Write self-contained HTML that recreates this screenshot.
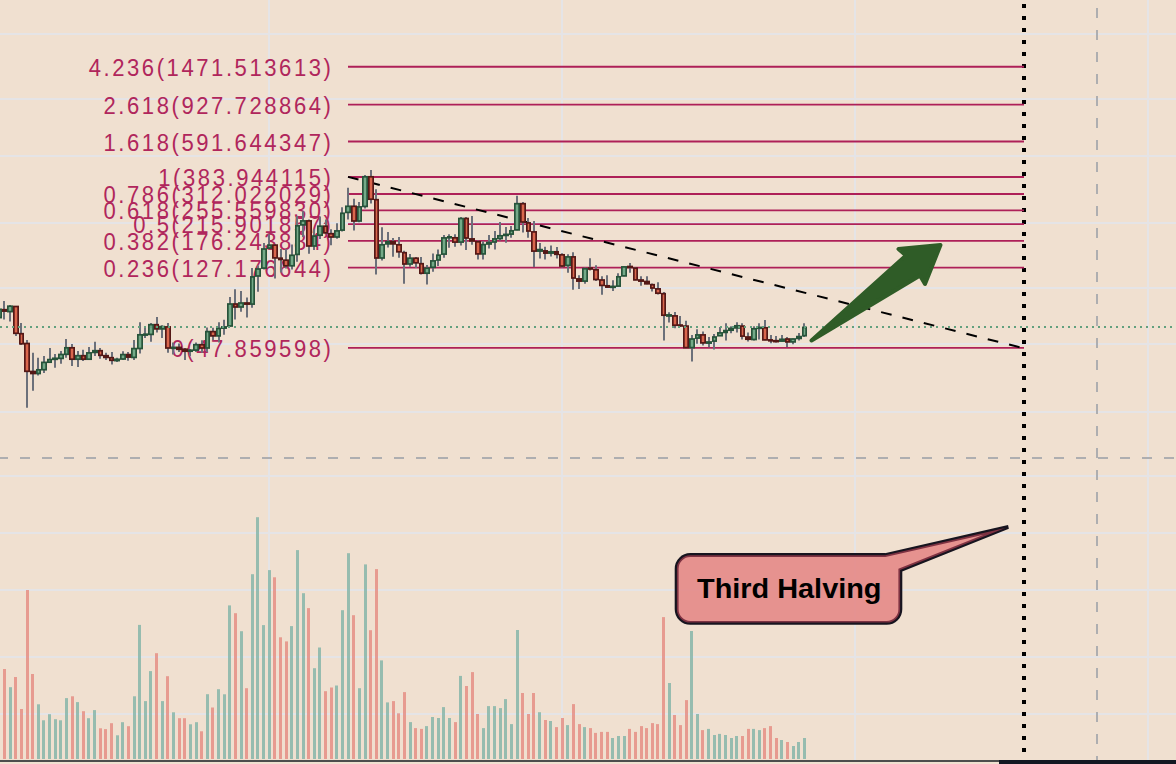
<!DOCTYPE html>
<html><head><meta charset="utf-8"><title>Chart</title>
<style>html,body{margin:0;padding:0;background:#f0e0d0;}body{width:1176px;height:764px;overflow:hidden;}svg{display:block;}text{font-family:"Liberation Sans",sans-serif;}</style>
</head><body>
<svg width="1176" height="764" viewBox="0 0 1176 764">
<rect width="1176" height="764" fill="#f0e0d0"/>
<g stroke="#e5e4e6" stroke-width="2" shape-rendering="auto">
<line x1="0" y1="34" x2="1176" y2="34"/>
<line x1="0" y1="99" x2="1176" y2="99"/>
<line x1="0" y1="156" x2="1176" y2="156"/>
<line x1="0" y1="223" x2="1176" y2="223"/>
<line x1="0" y1="288" x2="1176" y2="288"/>
<line x1="0" y1="344" x2="1176" y2="344"/>
<line x1="0" y1="412" x2="1176" y2="412"/>
<line x1="0" y1="476" x2="1176" y2="476"/>
<line x1="0" y1="533" x2="1176" y2="533"/>
<line x1="0" y1="590" x2="1176" y2="590"/>
<line x1="0" y1="657" x2="1176" y2="657"/>
<line x1="0" y1="714" x2="1176" y2="714"/>
<line x1="269" y1="0" x2="269" y2="760"/>
<line x1="562" y1="0" x2="562" y2="760"/>
<line x1="855" y1="0" x2="855" y2="760"/>
<line x1="1148" y1="0" x2="1148" y2="760"/>
</g>
<g>
<rect x="3" y="669" width="3" height="90" fill="#e58a80" fill-opacity="0.8"/>
<rect x="9" y="687.2" width="3" height="71.8" fill="#7fb3a6" fill-opacity="0.8"/>
<rect x="14" y="677" width="3" height="82" fill="#e58a80" fill-opacity="0.8"/>
<rect x="20" y="709" width="3" height="50" fill="#e58a80" fill-opacity="0.8"/>
<rect x="26" y="590" width="3" height="169" fill="#e58a80" fill-opacity="0.8"/>
<rect x="31" y="674" width="3" height="85" fill="#e58a80" fill-opacity="0.8"/>
<rect x="37" y="704.3" width="3" height="54.7" fill="#7fb3a6" fill-opacity="0.8"/>
<rect x="42" y="720.3" width="3" height="38.7" fill="#7fb3a6" fill-opacity="0.8"/>
<rect x="48" y="714.2" width="3" height="44.8" fill="#7fb3a6" fill-opacity="0.8"/>
<rect x="54" y="719.2" width="3" height="39.8" fill="#7fb3a6" fill-opacity="0.8"/>
<rect x="59" y="720.3" width="3" height="38.7" fill="#7fb3a6" fill-opacity="0.8"/>
<rect x="65" y="698.1" width="3" height="60.9" fill="#7fb3a6" fill-opacity="0.8"/>
<rect x="71" y="696.3" width="3" height="62.7" fill="#e58a80" fill-opacity="0.8"/>
<rect x="76" y="702.1" width="3" height="56.9" fill="#7fb3a6" fill-opacity="0.8"/>
<rect x="82" y="711.2" width="3" height="47.8" fill="#e58a80" fill-opacity="0.8"/>
<rect x="87" y="718.2" width="3" height="40.8" fill="#7fb3a6" fill-opacity="0.8"/>
<rect x="93" y="710.1" width="3" height="48.9" fill="#7fb3a6" fill-opacity="0.8"/>
<rect x="99" y="728.3" width="3" height="30.7" fill="#e58a80" fill-opacity="0.8"/>
<rect x="104" y="729.1" width="3" height="29.9" fill="#e58a80" fill-opacity="0.8"/>
<rect x="110" y="723.2" width="3" height="35.8" fill="#e58a80" fill-opacity="0.8"/>
<rect x="116" y="735.3" width="3" height="23.7" fill="#7fb3a6" fill-opacity="0.8"/>
<rect x="121" y="722.2" width="3" height="36.8" fill="#7fb3a6" fill-opacity="0.8"/>
<rect x="127" y="726.2" width="3" height="32.8" fill="#e58a80" fill-opacity="0.8"/>
<rect x="133" y="696.3" width="3" height="62.7" fill="#7fb3a6" fill-opacity="0.8"/>
<rect x="138" y="624.9" width="3" height="134.1" fill="#7fb3a6" fill-opacity="0.8"/>
<rect x="144" y="701.1" width="3" height="57.9" fill="#7fb3a6" fill-opacity="0.8"/>
<rect x="149" y="671.1" width="3" height="87.9" fill="#7fb3a6" fill-opacity="0.8"/>
<rect x="155" y="653.2" width="3" height="105.8" fill="#e58a80" fill-opacity="0.8"/>
<rect x="161" y="701.1" width="3" height="57.9" fill="#7fb3a6" fill-opacity="0.8"/>
<rect x="166" y="676.2" width="3" height="82.8" fill="#e58a80" fill-opacity="0.8"/>
<rect x="172" y="712.3" width="3" height="46.7" fill="#7fb3a6" fill-opacity="0.8"/>
<rect x="178" y="718.2" width="3" height="40.8" fill="#e58a80" fill-opacity="0.8"/>
<rect x="183" y="718.2" width="3" height="40.8" fill="#e58a80" fill-opacity="0.8"/>
<rect x="189" y="724.3" width="3" height="34.7" fill="#7fb3a6" fill-opacity="0.8"/>
<rect x="195" y="722.2" width="3" height="36.8" fill="#7fb3a6" fill-opacity="0.8"/>
<rect x="200" y="731.3" width="3" height="27.7" fill="#e58a80" fill-opacity="0.8"/>
<rect x="206" y="694.2" width="3" height="64.8" fill="#7fb3a6" fill-opacity="0.8"/>
<rect x="211" y="707.5" width="3" height="51.5" fill="#e58a80" fill-opacity="0.8"/>
<rect x="217" y="689.2" width="3" height="69.8" fill="#7fb3a6" fill-opacity="0.8"/>
<rect x="223" y="694.3" width="3" height="64.7" fill="#7fb3a6" fill-opacity="0.8"/>
<rect x="228" y="605.4" width="3" height="153.6" fill="#7fb3a6" fill-opacity="0.8"/>
<rect x="234" y="613.2" width="3" height="145.8" fill="#e58a80" fill-opacity="0.8"/>
<rect x="240" y="631.2" width="3" height="127.8" fill="#7fb3a6" fill-opacity="0.8"/>
<rect x="245" y="688.2" width="3" height="70.8" fill="#e58a80" fill-opacity="0.8"/>
<rect x="251" y="574.2" width="3" height="184.8" fill="#7fb3a6" fill-opacity="0.8"/>
<rect x="256" y="517.2" width="3" height="241.8" fill="#7fb3a6" fill-opacity="0.8"/>
<rect x="262" y="625.1" width="3" height="133.9" fill="#7fb3a6" fill-opacity="0.8"/>
<rect x="268" y="570.1" width="3" height="188.9" fill="#7fb3a6" fill-opacity="0.8"/>
<rect x="273" y="577.3" width="3" height="181.7" fill="#e58a80" fill-opacity="0.8"/>
<rect x="279" y="637.3" width="3" height="121.7" fill="#e58a80" fill-opacity="0.8"/>
<rect x="285" y="641.4" width="3" height="117.6" fill="#e58a80" fill-opacity="0.8"/>
<rect x="290" y="626.1" width="3" height="132.9" fill="#7fb3a6" fill-opacity="0.8"/>
<rect x="296" y="550.1" width="3" height="208.9" fill="#7fb3a6" fill-opacity="0.8"/>
<rect x="302" y="593.2" width="3" height="165.8" fill="#7fb3a6" fill-opacity="0.8"/>
<rect x="307" y="608.1" width="3" height="150.9" fill="#e58a80" fill-opacity="0.8"/>
<rect x="313" y="668.2" width="3" height="90.8" fill="#7fb3a6" fill-opacity="0.8"/>
<rect x="318" y="647.5" width="3" height="111.5" fill="#7fb3a6" fill-opacity="0.8"/>
<rect x="324" y="691.2" width="3" height="67.8" fill="#e58a80" fill-opacity="0.8"/>
<rect x="330" y="687.5" width="3" height="71.5" fill="#e58a80" fill-opacity="0.8"/>
<rect x="335" y="685.5" width="3" height="73.5" fill="#7fb3a6" fill-opacity="0.8"/>
<rect x="341" y="610.2" width="3" height="148.8" fill="#7fb3a6" fill-opacity="0.8"/>
<rect x="347" y="553.2" width="3" height="205.8" fill="#7fb3a6" fill-opacity="0.8"/>
<rect x="352" y="615.2" width="3" height="143.8" fill="#e58a80" fill-opacity="0.8"/>
<rect x="358" y="688.2" width="3" height="70.8" fill="#7fb3a6" fill-opacity="0.8"/>
<rect x="364" y="564.4" width="3" height="194.6" fill="#7fb3a6" fill-opacity="0.8"/>
<rect x="369" y="630.2" width="3" height="128.8" fill="#e58a80" fill-opacity="0.8"/>
<rect x="375" y="569.1" width="3" height="189.9" fill="#e58a80" fill-opacity="0.8"/>
<rect x="380" y="660.4" width="3" height="98.6" fill="#7fb3a6" fill-opacity="0.8"/>
<rect x="386" y="702.4" width="3" height="56.6" fill="#7fb3a6" fill-opacity="0.8"/>
<rect x="392" y="701.1" width="3" height="57.9" fill="#e58a80" fill-opacity="0.8"/>
<rect x="397" y="713.3" width="3" height="45.7" fill="#e58a80" fill-opacity="0.8"/>
<rect x="403" y="692.1" width="3" height="66.9" fill="#e58a80" fill-opacity="0.8"/>
<rect x="409" y="722.1" width="3" height="36.9" fill="#7fb3a6" fill-opacity="0.8"/>
<rect x="414" y="728.1" width="3" height="30.9" fill="#e58a80" fill-opacity="0.8"/>
<rect x="420" y="728.9" width="3" height="30.1" fill="#e58a80" fill-opacity="0.8"/>
<rect x="425" y="726.1" width="3" height="32.9" fill="#7fb3a6" fill-opacity="0.8"/>
<rect x="431" y="717" width="3" height="42" fill="#7fb3a6" fill-opacity="0.8"/>
<rect x="437" y="718" width="3" height="41" fill="#7fb3a6" fill-opacity="0.8"/>
<rect x="442" y="707.1" width="3" height="51.9" fill="#7fb3a6" fill-opacity="0.8"/>
<rect x="448" y="718" width="3" height="41" fill="#7fb3a6" fill-opacity="0.8"/>
<rect x="454" y="722.1" width="3" height="36.9" fill="#e58a80" fill-opacity="0.8"/>
<rect x="459" y="675.9" width="3" height="83.1" fill="#7fb3a6" fill-opacity="0.8"/>
<rect x="465" y="686" width="3" height="73" fill="#e58a80" fill-opacity="0.8"/>
<rect x="471" y="672.1" width="3" height="86.9" fill="#e58a80" fill-opacity="0.8"/>
<rect x="476" y="714" width="3" height="45" fill="#e58a80" fill-opacity="0.8"/>
<rect x="482" y="728.1" width="3" height="30.9" fill="#7fb3a6" fill-opacity="0.8"/>
<rect x="487" y="706.1" width="3" height="52.9" fill="#7fb3a6" fill-opacity="0.8"/>
<rect x="493" y="706.1" width="3" height="52.9" fill="#7fb3a6" fill-opacity="0.8"/>
<rect x="499" y="708.1" width="3" height="50.9" fill="#7fb3a6" fill-opacity="0.8"/>
<rect x="504" y="699.1" width="3" height="59.9" fill="#7fb3a6" fill-opacity="0.8"/>
<rect x="510" y="724.1" width="3" height="34.9" fill="#7fb3a6" fill-opacity="0.8"/>
<rect x="516" y="630" width="3" height="129" fill="#7fb3a6" fill-opacity="0.8"/>
<rect x="521" y="693" width="3" height="66" fill="#e58a80" fill-opacity="0.8"/>
<rect x="527" y="714" width="3" height="45" fill="#e58a80" fill-opacity="0.8"/>
<rect x="532" y="693" width="3" height="66" fill="#e58a80" fill-opacity="0.8"/>
<rect x="538" y="712.2" width="3" height="46.8" fill="#7fb3a6" fill-opacity="0.8"/>
<rect x="544" y="720" width="3" height="39" fill="#e58a80" fill-opacity="0.8"/>
<rect x="549" y="721" width="3" height="38" fill="#7fb3a6" fill-opacity="0.8"/>
<rect x="555" y="727.1" width="3" height="31.9" fill="#e58a80" fill-opacity="0.8"/>
<rect x="561" y="718" width="3" height="41" fill="#e58a80" fill-opacity="0.8"/>
<rect x="566" y="725.1" width="3" height="33.9" fill="#7fb3a6" fill-opacity="0.8"/>
<rect x="572" y="704.1" width="3" height="54.9" fill="#e58a80" fill-opacity="0.8"/>
<rect x="578" y="724.1" width="3" height="34.9" fill="#e58a80" fill-opacity="0.8"/>
<rect x="583" y="727.1" width="3" height="31.9" fill="#7fb3a6" fill-opacity="0.8"/>
<rect x="589" y="728.1" width="3" height="30.9" fill="#e58a80" fill-opacity="0.8"/>
<rect x="594" y="732.9" width="3" height="26.1" fill="#e58a80" fill-opacity="0.8"/>
<rect x="600" y="731.9" width="3" height="27.1" fill="#e58a80" fill-opacity="0.8"/>
<rect x="606" y="731.9" width="3" height="27.1" fill="#e58a80" fill-opacity="0.8"/>
<rect x="611" y="738" width="3" height="21" fill="#7fb3a6" fill-opacity="0.8"/>
<rect x="617" y="736" width="3" height="23" fill="#7fb3a6" fill-opacity="0.8"/>
<rect x="623" y="736" width="3" height="23" fill="#7fb3a6" fill-opacity="0.8"/>
<rect x="628" y="728.9" width="3" height="30.1" fill="#e58a80" fill-opacity="0.8"/>
<rect x="634" y="731.9" width="3" height="27.1" fill="#e58a80" fill-opacity="0.8"/>
<rect x="640" y="726.1" width="3" height="32.9" fill="#e58a80" fill-opacity="0.8"/>
<rect x="645" y="728.1" width="3" height="30.9" fill="#e58a80" fill-opacity="0.8"/>
<rect x="651" y="723.1" width="3" height="35.9" fill="#e58a80" fill-opacity="0.8"/>
<rect x="656" y="724.1" width="3" height="34.9" fill="#e58a80" fill-opacity="0.8"/>
<rect x="662" y="617.1" width="3" height="141.9" fill="#e58a80" fill-opacity="0.8"/>
<rect x="668" y="683" width="3" height="76" fill="#7fb3a6" fill-opacity="0.8"/>
<rect x="673" y="715" width="3" height="44" fill="#e58a80" fill-opacity="0.8"/>
<rect x="679" y="725.1" width="3" height="33.9" fill="#e58a80" fill-opacity="0.8"/>
<rect x="685" y="700.1" width="3" height="58.9" fill="#e58a80" fill-opacity="0.8"/>
<rect x="690" y="631" width="3" height="128" fill="#7fb3a6" fill-opacity="0.8"/>
<rect x="696" y="714" width="3" height="45" fill="#7fb3a6" fill-opacity="0.8"/>
<rect x="701" y="730.1" width="3" height="28.9" fill="#e58a80" fill-opacity="0.8"/>
<rect x="707" y="728.9" width="3" height="30.1" fill="#7fb3a6" fill-opacity="0.8"/>
<rect x="713" y="735" width="3" height="24" fill="#7fb3a6" fill-opacity="0.8"/>
<rect x="718" y="733.9" width="3" height="25.1" fill="#7fb3a6" fill-opacity="0.8"/>
<rect x="724" y="735" width="3" height="24" fill="#7fb3a6" fill-opacity="0.8"/>
<rect x="730" y="738" width="3" height="21" fill="#7fb3a6" fill-opacity="0.8"/>
<rect x="735" y="736" width="3" height="23" fill="#7fb3a6" fill-opacity="0.8"/>
<rect x="741" y="736" width="3" height="23" fill="#e58a80" fill-opacity="0.8"/>
<rect x="747" y="728.9" width="3" height="30.1" fill="#e58a80" fill-opacity="0.8"/>
<rect x="752" y="728.9" width="3" height="30.1" fill="#7fb3a6" fill-opacity="0.8"/>
<rect x="758" y="730.1" width="3" height="28.9" fill="#7fb3a6" fill-opacity="0.8"/>
<rect x="763" y="728.1" width="3" height="30.9" fill="#e58a80" fill-opacity="0.8"/>
<rect x="769" y="726.1" width="3" height="32.9" fill="#e58a80" fill-opacity="0.8"/>
<rect x="775" y="738" width="3" height="21" fill="#e58a80" fill-opacity="0.8"/>
<rect x="780" y="740" width="3" height="19" fill="#7fb3a6" fill-opacity="0.8"/>
<rect x="786" y="742" width="3" height="17" fill="#e58a80" fill-opacity="0.8"/>
<rect x="792" y="746" width="3" height="13" fill="#7fb3a6" fill-opacity="0.8"/>
<rect x="797" y="742" width="3" height="17" fill="#7fb3a6" fill-opacity="0.8"/>
<rect x="803" y="738" width="3" height="21" fill="#7fb3a6" fill-opacity="0.8"/>
</g>
<g stroke="#aeaeb0" stroke-width="2" stroke-dasharray="10 12" fill="none">
<line x1="-2" y1="458" x2="1176" y2="458"/>
<line x1="1097" y1="8" x2="1097" y2="760"/>
</g>
<g fill="#000">
<rect x="1022" y="4" width="4" height="4"/>
<rect x="1022" y="16" width="4" height="4"/>
<rect x="1022" y="28" width="4" height="4"/>
<rect x="1022" y="40" width="4" height="4"/>
<rect x="1022" y="52" width="4" height="4"/>
<rect x="1022" y="64" width="4" height="4"/>
<rect x="1022" y="76" width="4" height="4"/>
<rect x="1022" y="88" width="4" height="4"/>
<rect x="1022" y="100" width="4" height="4"/>
<rect x="1022" y="112" width="4" height="4"/>
<rect x="1022" y="124" width="4" height="4"/>
<rect x="1022" y="136" width="4" height="4"/>
<rect x="1022" y="148" width="4" height="4"/>
<rect x="1022" y="160" width="4" height="4"/>
<rect x="1022" y="172" width="4" height="4"/>
<rect x="1022" y="184" width="4" height="4"/>
<rect x="1022" y="196" width="4" height="4"/>
<rect x="1022" y="208" width="4" height="4"/>
<rect x="1022" y="220" width="4" height="4"/>
<rect x="1022" y="232" width="4" height="4"/>
<rect x="1022" y="244" width="4" height="4"/>
<rect x="1022" y="256" width="4" height="4"/>
<rect x="1022" y="268" width="4" height="4"/>
<rect x="1022" y="280" width="4" height="4"/>
<rect x="1022" y="292" width="4" height="4"/>
<rect x="1022" y="304" width="4" height="4"/>
<rect x="1022" y="316" width="4" height="4"/>
<rect x="1022" y="328" width="4" height="4"/>
<rect x="1022" y="340" width="4" height="4"/>
<rect x="1022" y="352" width="4" height="4"/>
<rect x="1022" y="364" width="4" height="4"/>
<rect x="1022" y="376" width="4" height="4"/>
<rect x="1022" y="388" width="4" height="4"/>
<rect x="1022" y="400" width="4" height="4"/>
<rect x="1022" y="412" width="4" height="4"/>
<rect x="1022" y="424" width="4" height="4"/>
<rect x="1022" y="436" width="4" height="4"/>
<rect x="1022" y="448" width="4" height="4"/>
<rect x="1022" y="460" width="4" height="4"/>
<rect x="1022" y="472" width="4" height="4"/>
<rect x="1022" y="484" width="4" height="4"/>
<rect x="1022" y="496" width="4" height="4"/>
<rect x="1022" y="508" width="4" height="4"/>
<rect x="1022" y="520" width="4" height="4"/>
<rect x="1022" y="532" width="4" height="4"/>
<rect x="1022" y="544" width="4" height="4"/>
<rect x="1022" y="556" width="4" height="4"/>
<rect x="1022" y="568" width="4" height="4"/>
<rect x="1022" y="580" width="4" height="4"/>
<rect x="1022" y="592" width="4" height="4"/>
<rect x="1022" y="604" width="4" height="4"/>
<rect x="1022" y="616" width="4" height="4"/>
<rect x="1022" y="628" width="4" height="4"/>
<rect x="1022" y="640" width="4" height="4"/>
<rect x="1022" y="652" width="4" height="4"/>
<rect x="1022" y="664" width="4" height="4"/>
<rect x="1022" y="676" width="4" height="4"/>
<rect x="1022" y="688" width="4" height="4"/>
<rect x="1022" y="700" width="4" height="4"/>
<rect x="1022" y="712" width="4" height="4"/>
<rect x="1022" y="724" width="4" height="4"/>
<rect x="1022" y="736" width="4" height="4"/>
<rect x="1022" y="748" width="4" height="4"/>
</g>
<g stroke="#ae2058" stroke-width="1.8">
<line x1="348" y1="66.76" x2="1024" y2="66.76"/>
<line x1="348" y1="104.6" x2="1024" y2="104.6"/>
<line x1="348" y1="141.5" x2="1024" y2="141.5"/>
<line x1="348" y1="176.98" x2="1024" y2="176.98"/>
<line x1="348" y1="193.99" x2="1024" y2="193.99"/>
<line x1="348" y1="210.37" x2="1024" y2="210.37"/>
<line x1="348" y1="224.21" x2="1024" y2="224.21"/>
<line x1="348" y1="240.86" x2="1024" y2="240.86"/>
<line x1="348" y1="267.62" x2="1024" y2="267.62"/>
<line x1="348" y1="347.8" x2="1024" y2="347.8"/>
</g>
<g fill="#b0265c" font-size="24" text-anchor="end" letter-spacing="2.78">
<text transform="translate(333.46,75.76) scale(0.92,1)">4.236(1471.513613)</text>
<text transform="translate(333.46,113.6) scale(0.92,1)">2.618(927.728864)</text>
<text transform="translate(333.46,150.5) scale(0.92,1)">1.618(591.644347)</text>
<text transform="translate(333.46,185.98) scale(0.92,1)">1(383.944115)</text>
<text transform="translate(333.46,202.99) scale(0.92,1)">0.786(312.022029)</text>
<text transform="translate(333.46,219.37) scale(0.92,1)">0.618(255.559830)</text>
<text transform="translate(333.46,233.21) scale(0.92,1)">0.5(215.901857)</text>
<text transform="translate(333.46,249.86) scale(0.92,1)">0.382(176.243884)</text>
<text transform="translate(333.46,276.62) scale(0.92,1)">0.236(127.176644)</text>
<text transform="translate(333.46,356.8) scale(0.92,1)">0(47.859598)</text>
</g>
<line x1="348" y1="176.9" x2="1020" y2="347.35" stroke="#000" stroke-width="2" stroke-dasharray="10.8 11.2"/>
<g>
<g stroke="#6c707a" stroke-width="2">
<line x1="-1" y1="308.8" x2="-1" y2="318"/>
<line x1="4" y1="301" x2="4" y2="319.5"/>
<line x1="10" y1="305" x2="10" y2="321.4"/>
<line x1="16" y1="306" x2="16" y2="335.9"/>
<line x1="21" y1="323" x2="21" y2="345"/>
<line x1="27" y1="340" x2="27" y2="407.8"/>
<line x1="33" y1="352.8" x2="33" y2="390.8"/>
<line x1="38" y1="357.8" x2="38" y2="375.6"/>
<line x1="44" y1="356" x2="44" y2="372.9"/>
<line x1="50" y1="348.1" x2="50" y2="363"/>
<line x1="55" y1="354" x2="55" y2="367.7"/>
<line x1="61" y1="350.9" x2="61" y2="363.8"/>
<line x1="66" y1="339" x2="66" y2="357.8"/>
<line x1="72" y1="343.9" x2="72" y2="365.9"/>
<line x1="78" y1="350.9" x2="78" y2="367"/>
<line x1="83" y1="349.7" x2="83" y2="361"/>
<line x1="89" y1="346.9" x2="89" y2="359.6"/>
<line x1="95" y1="341.8" x2="95" y2="356"/>
<line x1="100" y1="348.1" x2="100" y2="358.8"/>
<line x1="106" y1="352.8" x2="106" y2="359.9"/>
<line x1="112" y1="352" x2="112" y2="364.6"/>
<line x1="117" y1="357.8" x2="117" y2="362"/>
<line x1="123" y1="351.3" x2="123" y2="359.9"/>
<line x1="128" y1="352" x2="128" y2="360.7"/>
<line x1="134" y1="340" x2="134" y2="359.9"/>
<line x1="140" y1="322.2" x2="140" y2="353.6"/>
<line x1="145" y1="327.7" x2="145" y2="337.9"/>
<line x1="151" y1="323" x2="151" y2="341.8"/>
<line x1="157" y1="317" x2="157" y2="332.4"/>
<line x1="162" y1="325.3" x2="162" y2="337.9"/>
<line x1="168" y1="323" x2="168" y2="352.8"/>
<line x1="173" y1="342.6" x2="173" y2="354.4"/>
<line x1="179" y1="343.4" x2="179" y2="352"/>
<line x1="185" y1="348.1" x2="185" y2="359.9"/>
<line x1="190" y1="348.9" x2="190" y2="356"/>
<line x1="196" y1="342.6" x2="196" y2="352"/>
<line x1="202" y1="340.3" x2="202" y2="352.8"/>
<line x1="207" y1="327.4" x2="207" y2="352"/>
<line x1="213" y1="327.7" x2="213" y2="340.3"/>
<line x1="219" y1="322.2" x2="219" y2="342.6"/>
<line x1="224" y1="319.8" x2="224" y2="334.8"/>
<line x1="230" y1="297" x2="230" y2="326.4"/>
<line x1="235" y1="289.2" x2="235" y2="319.6"/>
<line x1="241" y1="291.1" x2="241" y2="311.7"/>
<line x1="247" y1="297.6" x2="247" y2="317.6"/>
<line x1="252" y1="268.1" x2="252" y2="307.8"/>
<line x1="258" y1="265.6" x2="258" y2="291.7"/>
<line x1="264" y1="243" x2="264" y2="269.5"/>
<line x1="269" y1="234.2" x2="269" y2="248.9"/>
<line x1="275" y1="244" x2="275" y2="278.4"/>
<line x1="281" y1="248.9" x2="281" y2="272.5"/>
<line x1="286" y1="248.9" x2="286" y2="268.5"/>
<line x1="292" y1="244.6" x2="292" y2="269.5"/>
<line x1="297" y1="216.1" x2="297" y2="261.7"/>
<line x1="303" y1="211.2" x2="303" y2="237.1"/>
<line x1="309" y1="219.5" x2="309" y2="253.8"/>
<line x1="314" y1="229.3" x2="314" y2="249.9"/>
<line x1="320" y1="216.5" x2="320" y2="239.1"/>
<line x1="326" y1="219.5" x2="326" y2="234.2"/>
<line x1="331" y1="229.3" x2="331" y2="245.3"/>
<line x1="337" y1="223.3" x2="337" y2="238.8"/>
<line x1="342" y1="207.3" x2="342" y2="231.5"/>
<line x1="348" y1="187.8" x2="348" y2="219.5"/>
<line x1="354" y1="198.8" x2="354" y2="230.5"/>
<line x1="359" y1="202.1" x2="359" y2="222.3"/>
<line x1="365" y1="175" x2="365" y2="208.6"/>
<line x1="371" y1="170.1" x2="371" y2="203.6"/>
<line x1="376" y1="189.3" x2="376" y2="274.5"/>
<line x1="382" y1="227.2" x2="382" y2="260.4"/>
<line x1="388" y1="232" x2="388" y2="247.6"/>
<line x1="393" y1="237.9" x2="393" y2="256.7"/>
<line x1="399" y1="237" x2="399" y2="257.7"/>
<line x1="404" y1="250.7" x2="404" y2="283.7"/>
<line x1="410" y1="254" x2="410" y2="266.8"/>
<line x1="416" y1="257.1" x2="416" y2="268.1"/>
<line x1="421" y1="257.1" x2="421" y2="274.5"/>
<line x1="427" y1="265" x2="427" y2="284.6"/>
<line x1="433" y1="253.4" x2="433" y2="271.8"/>
<line x1="438" y1="249.4" x2="438" y2="265.9"/>
<line x1="444" y1="235" x2="444" y2="257.7"/>
<line x1="449" y1="234.2" x2="449" y2="247.8"/>
<line x1="455" y1="234.2" x2="455" y2="246.7"/>
<line x1="461" y1="216.9" x2="461" y2="245.6"/>
<line x1="466" y1="216.9" x2="466" y2="249.9"/>
<line x1="472" y1="216.1" x2="472" y2="244.7"/>
<line x1="478" y1="240.5" x2="478" y2="259.6"/>
<line x1="483" y1="241.3" x2="483" y2="259.6"/>
<line x1="489" y1="235" x2="489" y2="248.6"/>
<line x1="495" y1="231" x2="495" y2="249.6"/>
<line x1="500" y1="222.1" x2="500" y2="240.5"/>
<line x1="506" y1="227.1" x2="506" y2="242.8"/>
<line x1="511" y1="226" x2="511" y2="237.8"/>
<line x1="517" y1="195.7" x2="517" y2="230.3"/>
<line x1="523" y1="202" x2="523" y2="232.6"/>
<line x1="528" y1="218" x2="528" y2="237.8"/>
<line x1="534" y1="221.1" x2="534" y2="266.9"/>
<line x1="540" y1="243.1" x2="540" y2="258.5"/>
<line x1="545" y1="246.7" x2="545" y2="259.6"/>
<line x1="551" y1="245.5" x2="551" y2="256.5"/>
<line x1="557" y1="247" x2="557" y2="258.6"/>
<line x1="562" y1="253.2" x2="562" y2="267.4"/>
<line x1="568" y1="254.3" x2="568" y2="272.7"/>
<line x1="573" y1="252.3" x2="573" y2="289.7"/>
<line x1="579" y1="275.2" x2="579" y2="288.9"/>
<line x1="585" y1="267.4" x2="585" y2="283.7"/>
<line x1="590" y1="258.3" x2="590" y2="270.5"/>
<line x1="596" y1="265.3" x2="596" y2="281"/>
<line x1="602" y1="276.3" x2="602" y2="294.7"/>
<line x1="607" y1="275.2" x2="607" y2="287.5"/>
<line x1="613" y1="280.3" x2="613" y2="290.9"/>
<line x1="618" y1="273.2" x2="618" y2="286.5"/>
<line x1="624" y1="266.4" x2="624" y2="276.3"/>
<line x1="630" y1="263" x2="630" y2="272.7"/>
<line x1="635" y1="266.9" x2="635" y2="280.3"/>
<line x1="641" y1="276.3" x2="641" y2="285.8"/>
<line x1="647" y1="276.3" x2="647" y2="284.2"/>
<line x1="652" y1="283.4" x2="652" y2="291.6"/>
<line x1="658" y1="282.2" x2="658" y2="294.5"/>
<line x1="664" y1="292.1" x2="664" y2="340.6"/>
<line x1="669" y1="312.2" x2="669" y2="322.5"/>
<line x1="675" y1="312" x2="675" y2="328.3"/>
<line x1="680" y1="316" x2="680" y2="326.9"/>
<line x1="686" y1="320.8" x2="686" y2="348"/>
<line x1="692" y1="335.1" x2="692" y2="361.6"/>
<line x1="697" y1="329.3" x2="697" y2="343.7"/>
<line x1="703" y1="331.4" x2="703" y2="345.6"/>
<line x1="709" y1="337.1" x2="709" y2="347.3"/>
<line x1="714" y1="334.1" x2="714" y2="349.4"/>
<line x1="720" y1="326.9" x2="720" y2="336.1"/>
<line x1="726" y1="323.3" x2="726" y2="340.5"/>
<line x1="731" y1="326.3" x2="731" y2="333.3"/>
<line x1="737" y1="322.2" x2="737" y2="332.4"/>
<line x1="742" y1="323.3" x2="742" y2="339.6"/>
<line x1="748" y1="332.4" x2="748" y2="341.5"/>
<line x1="754" y1="326.3" x2="754" y2="340.5"/>
<line x1="759" y1="323.3" x2="759" y2="339.6"/>
<line x1="765" y1="320.1" x2="765" y2="340.3"/>
<line x1="771" y1="335.1" x2="771" y2="343.3"/>
<line x1="776" y1="336.1" x2="776" y2="342.6"/>
<line x1="782" y1="335.1" x2="782" y2="341.5"/>
<line x1="787" y1="337.1" x2="787" y2="346.9"/>
<line x1="793" y1="338.5" x2="793" y2="344.2"/>
<line x1="799" y1="333.1" x2="799" y2="340.5"/>
<line x1="804" y1="323.3" x2="804" y2="337.1"/>
</g>
<rect x="-4" y="308.45" width="6" height="10" fill="#27533a"/>
<rect x="-2.3" y="310.15" width="2.6" height="6.6" fill="#74aa88"/>
<rect x="2" y="308.85" width="5" height="3.1" fill="#541816"/>
<rect x="7" y="305.35" width="6" height="7.1" fill="#27533a"/>
<rect x="8.7" y="307.05" width="2.6" height="3.7" fill="#74aa88"/>
<rect x="13" y="305.65" width="6" height="28.5" fill="#541816"/>
<rect x="14.7" y="307.35" width="2.6" height="25.1" fill="#da664d"/>
<rect x="19" y="332.85" width="5" height="11.8" fill="#541816"/>
<rect x="20.7" y="334.55" width="1.6" height="8.4" fill="#da664d"/>
<rect x="24" y="342.65" width="6" height="29.5" fill="#541816"/>
<rect x="25.7" y="344.35" width="2.6" height="26.1" fill="#da664d"/>
<rect x="30" y="370.65" width="6" height="3.7" fill="#541816"/>
<rect x="36" y="368.95" width="5" height="5.4" fill="#27533a"/>
<rect x="37.7" y="370.65" width="1.6" height="2" fill="#74aa88"/>
<rect x="41" y="361.55" width="6" height="9" fill="#27533a"/>
<rect x="42.7" y="363.25" width="2.6" height="5.6" fill="#74aa88"/>
<rect x="47" y="358.75" width="5" height="4.3" fill="#27533a"/>
<rect x="48.7" y="360.45" width="1.6" height="0.9" fill="#74aa88"/>
<rect x="52" y="357.45" width="6" height="2.7" fill="#27533a"/>
<rect x="58" y="353.65" width="6" height="5.6" fill="#27533a"/>
<rect x="59.7" y="355.35" width="2.6" height="2.2" fill="#74aa88"/>
<rect x="64" y="346.95" width="5" height="8.2" fill="#27533a"/>
<rect x="65.7" y="348.65" width="1.6" height="4.8" fill="#74aa88"/>
<rect x="69" y="346.95" width="6" height="13.1" fill="#541816"/>
<rect x="70.7" y="348.65" width="2.6" height="9.7" fill="#da664d"/>
<rect x="75" y="354.85" width="6" height="5.2" fill="#27533a"/>
<rect x="76.7" y="356.55" width="2.6" height="1.8" fill="#74aa88"/>
<rect x="81" y="354.85" width="5" height="5.2" fill="#541816"/>
<rect x="82.7" y="356.55" width="1.6" height="1.8" fill="#da664d"/>
<rect x="86" y="352.05" width="6" height="8" fill="#27533a"/>
<rect x="87.7" y="353.75" width="2.6" height="4.6" fill="#74aa88"/>
<rect x="92" y="349.85" width="6" height="3.4" fill="#27533a"/>
<rect x="98" y="349.85" width="5" height="6.3" fill="#541816"/>
<rect x="99.7" y="351.55" width="1.6" height="2.9" fill="#da664d"/>
<rect x="103" y="354.85" width="6" height="3.4" fill="#541816"/>
<rect x="109" y="356.85" width="5" height="4.3" fill="#541816"/>
<rect x="110.7" y="358.55" width="1.6" height="0.9" fill="#da664d"/>
<rect x="114" y="358.45" width="6" height="3" fill="#27533a"/>
<rect x="120" y="353.75" width="6" height="6.1" fill="#27533a"/>
<rect x="121.7" y="355.45" width="2.6" height="2.7" fill="#74aa88"/>
<rect x="126" y="353.75" width="5" height="4.2" fill="#541816"/>
<rect x="131" y="347.75" width="6" height="10.5" fill="#27533a"/>
<rect x="132.7" y="349.45" width="2.6" height="7.1" fill="#74aa88"/>
<rect x="137" y="333.95" width="6" height="15.4" fill="#27533a"/>
<rect x="138.7" y="335.65" width="2.6" height="12" fill="#74aa88"/>
<rect x="143" y="333.35" width="5" height="2.6" fill="#27533a"/>
<rect x="148" y="323.85" width="6" height="11.4" fill="#27533a"/>
<rect x="149.7" y="325.55" width="2.6" height="8" fill="#74aa88"/>
<rect x="154" y="323.85" width="5" height="5.9" fill="#541816"/>
<rect x="155.7" y="325.55" width="1.6" height="2.5" fill="#da664d"/>
<rect x="159" y="325.75" width="6" height="4" fill="#27533a"/>
<rect x="165" y="326.05" width="6" height="22.8" fill="#541816"/>
<rect x="166.7" y="327.75" width="2.6" height="19.4" fill="#da664d"/>
<rect x="171" y="346.55" width="5" height="2.6" fill="#27533a"/>
<rect x="176" y="346.55" width="6" height="3.6" fill="#541816"/>
<rect x="182" y="348.35" width="6" height="3.7" fill="#541816"/>
<rect x="188" y="349.35" width="5" height="2.7" fill="#27533a"/>
<rect x="193" y="343.85" width="6" height="7.1" fill="#27533a"/>
<rect x="194.7" y="345.55" width="2.6" height="3.7" fill="#74aa88"/>
<rect x="199" y="343.85" width="6" height="5" fill="#541816"/>
<rect x="200.7" y="345.55" width="2.6" height="1.6" fill="#da664d"/>
<rect x="205" y="330.75" width="5" height="18.1" fill="#27533a"/>
<rect x="206.7" y="332.45" width="1.6" height="14.7" fill="#74aa88"/>
<rect x="210" y="330.75" width="6" height="6" fill="#541816"/>
<rect x="211.7" y="332.45" width="2.6" height="2.6" fill="#da664d"/>
<rect x="216" y="327.65" width="5" height="9.1" fill="#27533a"/>
<rect x="217.7" y="329.35" width="1.6" height="5.7" fill="#74aa88"/>
<rect x="221" y="326.05" width="6" height="2.9" fill="#27533a"/>
<rect x="227" y="303.15" width="6" height="23.7" fill="#27533a"/>
<rect x="228.7" y="304.85" width="2.6" height="20.3" fill="#74aa88"/>
<rect x="233" y="303.15" width="5" height="4.7" fill="#541816"/>
<rect x="234.7" y="304.85" width="1.6" height="1.3" fill="#da664d"/>
<rect x="238" y="302.15" width="6" height="5.7" fill="#27533a"/>
<rect x="239.7" y="303.85" width="2.6" height="2.3" fill="#74aa88"/>
<rect x="244" y="302.15" width="6" height="2.8" fill="#541816"/>
<rect x="250" y="276.05" width="5" height="28.9" fill="#27533a"/>
<rect x="251.7" y="277.75" width="1.6" height="25.5" fill="#74aa88"/>
<rect x="255" y="268.15" width="6" height="8.7" fill="#27533a"/>
<rect x="256.7" y="269.85" width="2.6" height="5.3" fill="#74aa88"/>
<rect x="261" y="248.15" width="6" height="20.8" fill="#27533a"/>
<rect x="262.7" y="249.85" width="2.6" height="17.4" fill="#74aa88"/>
<rect x="267" y="244.25" width="5" height="4.7" fill="#27533a"/>
<rect x="268.7" y="245.95" width="1.6" height="1.3" fill="#74aa88"/>
<rect x="272" y="244.25" width="6" height="14.5" fill="#541816"/>
<rect x="273.7" y="245.95" width="2.6" height="11.1" fill="#da664d"/>
<rect x="278" y="257.35" width="5" height="3" fill="#541816"/>
<rect x="283" y="259.35" width="6" height="7.3" fill="#541816"/>
<rect x="284.7" y="261.05" width="2.6" height="3.9" fill="#da664d"/>
<rect x="289" y="254.45" width="6" height="12.2" fill="#27533a"/>
<rect x="290.7" y="256.15" width="2.6" height="8.8" fill="#74aa88"/>
<rect x="295" y="224.95" width="5" height="30.3" fill="#27533a"/>
<rect x="296.7" y="226.65" width="1.6" height="26.9" fill="#74aa88"/>
<rect x="300" y="220.05" width="6" height="5.7" fill="#27533a"/>
<rect x="301.7" y="221.75" width="2.6" height="2.3" fill="#74aa88"/>
<rect x="306" y="220.05" width="6" height="26.8" fill="#541816"/>
<rect x="307.7" y="221.75" width="2.6" height="23.4" fill="#da664d"/>
<rect x="312" y="235.25" width="5" height="11.6" fill="#27533a"/>
<rect x="313.7" y="236.95" width="1.6" height="8.2" fill="#74aa88"/>
<rect x="317" y="225.35" width="6" height="10.7" fill="#27533a"/>
<rect x="318.7" y="227.05" width="2.6" height="7.3" fill="#74aa88"/>
<rect x="323" y="225.35" width="5" height="8.3" fill="#541816"/>
<rect x="324.7" y="227.05" width="1.6" height="4.9" fill="#da664d"/>
<rect x="328" y="232.85" width="6" height="5" fill="#541816"/>
<rect x="329.7" y="234.55" width="2.6" height="1.6" fill="#da664d"/>
<rect x="334" y="230.05" width="6" height="7.8" fill="#27533a"/>
<rect x="335.7" y="231.75" width="2.6" height="4.4" fill="#74aa88"/>
<rect x="340" y="212.45" width="5" height="18.5" fill="#27533a"/>
<rect x="341.7" y="214.15" width="1.6" height="15.1" fill="#74aa88"/>
<rect x="345" y="205.45" width="6" height="7.8" fill="#27533a"/>
<rect x="346.7" y="207.15" width="2.6" height="4.4" fill="#74aa88"/>
<rect x="351" y="205.45" width="6" height="16.4" fill="#541816"/>
<rect x="352.7" y="207.15" width="2.6" height="13" fill="#da664d"/>
<rect x="357" y="206.05" width="5" height="15.8" fill="#27533a"/>
<rect x="358.7" y="207.75" width="1.6" height="12.4" fill="#74aa88"/>
<rect x="362" y="175.95" width="6" height="31.3" fill="#27533a"/>
<rect x="363.7" y="177.65" width="2.6" height="27.9" fill="#74aa88"/>
<rect x="368" y="175.95" width="6" height="24.1" fill="#541816"/>
<rect x="369.7" y="177.65" width="2.6" height="20.7" fill="#da664d"/>
<rect x="374" y="198.85" width="5" height="60" fill="#541816"/>
<rect x="375.7" y="200.55" width="1.6" height="56.6" fill="#da664d"/>
<rect x="379" y="243.95" width="6" height="14.9" fill="#27533a"/>
<rect x="380.7" y="245.65" width="2.6" height="11.5" fill="#74aa88"/>
<rect x="385" y="240.85" width="5" height="3.9" fill="#27533a"/>
<rect x="390" y="240.85" width="6" height="3.9" fill="#541816"/>
<rect x="396" y="243.95" width="6" height="8.7" fill="#541816"/>
<rect x="397.7" y="245.65" width="2.6" height="5.3" fill="#da664d"/>
<rect x="402" y="251.85" width="5" height="13" fill="#541816"/>
<rect x="403.7" y="253.55" width="1.6" height="9.6" fill="#da664d"/>
<rect x="407" y="257.35" width="6" height="7.5" fill="#27533a"/>
<rect x="408.7" y="259.05" width="2.6" height="4.1" fill="#74aa88"/>
<rect x="413" y="257.35" width="6" height="6.3" fill="#541816"/>
<rect x="414.7" y="259.05" width="2.6" height="2.9" fill="#da664d"/>
<rect x="419" y="262.85" width="5" height="11.2" fill="#541816"/>
<rect x="420.7" y="264.55" width="1.6" height="7.8" fill="#da664d"/>
<rect x="424" y="267.35" width="6" height="6.7" fill="#27533a"/>
<rect x="425.7" y="269.05" width="2.6" height="3.3" fill="#74aa88"/>
<rect x="430" y="260.05" width="6" height="8.1" fill="#27533a"/>
<rect x="431.7" y="261.75" width="2.6" height="4.7" fill="#74aa88"/>
<rect x="436" y="254.35" width="5" height="6.5" fill="#27533a"/>
<rect x="437.7" y="256.05" width="1.6" height="3.1" fill="#74aa88"/>
<rect x="441" y="237.05" width="6" height="17.9" fill="#27533a"/>
<rect x="442.7" y="238.75" width="2.6" height="14.5" fill="#74aa88"/>
<rect x="447" y="236" width="5" height="2.6" fill="#27533a"/>
<rect x="452" y="236.95" width="6" height="6" fill="#541816"/>
<rect x="453.7" y="238.65" width="2.6" height="2.6" fill="#da664d"/>
<rect x="458" y="217.65" width="6" height="25.3" fill="#27533a"/>
<rect x="459.7" y="219.35" width="2.6" height="21.9" fill="#74aa88"/>
<rect x="464" y="217.65" width="5" height="21.2" fill="#541816"/>
<rect x="465.7" y="219.35" width="1.6" height="17.8" fill="#da664d"/>
<rect x="469" y="238.05" width="6" height="3.7" fill="#541816"/>
<rect x="475" y="240.95" width="6" height="13.8" fill="#541816"/>
<rect x="476.7" y="242.65" width="2.6" height="10.4" fill="#da664d"/>
<rect x="481" y="243.75" width="5" height="11" fill="#27533a"/>
<rect x="482.7" y="245.45" width="1.6" height="7.6" fill="#74aa88"/>
<rect x="486" y="241.65" width="6" height="3.2" fill="#27533a"/>
<rect x="492" y="238.05" width="5" height="4.8" fill="#27533a"/>
<rect x="493.7" y="239.75" width="1.6" height="1.4" fill="#74aa88"/>
<rect x="497" y="234.95" width="6" height="4.4" fill="#27533a"/>
<rect x="498.7" y="236.65" width="2.6" height="1" fill="#74aa88"/>
<rect x="503" y="233.55" width="6" height="2.7" fill="#27533a"/>
<rect x="509" y="229.95" width="5" height="5" fill="#27533a"/>
<rect x="510.7" y="231.65" width="1.6" height="1.6" fill="#74aa88"/>
<rect x="514" y="202.85" width="6" height="27.9" fill="#27533a"/>
<rect x="515.7" y="204.55" width="2.6" height="24.5" fill="#74aa88"/>
<rect x="520" y="202.85" width="6" height="20" fill="#541816"/>
<rect x="521.7" y="204.55" width="2.6" height="16.6" fill="#da664d"/>
<rect x="526" y="222.05" width="5" height="9.8" fill="#541816"/>
<rect x="527.7" y="223.75" width="1.6" height="6.4" fill="#da664d"/>
<rect x="531" y="231.05" width="6" height="20.9" fill="#541816"/>
<rect x="532.7" y="232.75" width="2.6" height="17.5" fill="#da664d"/>
<rect x="537" y="248.75" width="6" height="3.2" fill="#27533a"/>
<rect x="543" y="250.05" width="5" height="3.9" fill="#541816"/>
<rect x="548" y="250.95" width="6" height="3" fill="#27533a"/>
<rect x="554" y="250.95" width="5" height="4.2" fill="#541816"/>
<rect x="559" y="253.95" width="6" height="12.9" fill="#541816"/>
<rect x="560.7" y="255.65" width="2.6" height="9.5" fill="#da664d"/>
<rect x="565" y="256.05" width="6" height="10.2" fill="#27533a"/>
<rect x="566.7" y="257.75" width="2.6" height="6.8" fill="#74aa88"/>
<rect x="571" y="256.05" width="5" height="22.8" fill="#541816"/>
<rect x="572.7" y="257.75" width="1.6" height="19.4" fill="#da664d"/>
<rect x="576" y="278.05" width="6" height="3.9" fill="#541816"/>
<rect x="582" y="267.85" width="6" height="14.1" fill="#27533a"/>
<rect x="583.7" y="269.55" width="2.6" height="10.7" fill="#74aa88"/>
<rect x="588" y="267.25" width="5" height="2.6" fill="#541816"/>
<rect x="593" y="268.95" width="6" height="11.4" fill="#541816"/>
<rect x="594.7" y="270.65" width="2.6" height="8" fill="#da664d"/>
<rect x="599" y="279.15" width="6" height="7.1" fill="#541816"/>
<rect x="600.7" y="280.85" width="2.6" height="3.7" fill="#da664d"/>
<rect x="605" y="284.95" width="5" height="3" fill="#541816"/>
<rect x="610" y="285.55" width="6" height="2.6" fill="#27533a"/>
<rect x="616" y="275.95" width="5" height="11" fill="#27533a"/>
<rect x="617.7" y="277.65" width="1.6" height="7.6" fill="#74aa88"/>
<rect x="621" y="266.05" width="6" height="10.7" fill="#27533a"/>
<rect x="622.7" y="267.75" width="2.6" height="7.3" fill="#74aa88"/>
<rect x="627" y="265.65" width="6" height="2.6" fill="#541816"/>
<rect x="633" y="267.35" width="5" height="13.4" fill="#541816"/>
<rect x="634.7" y="269.05" width="1.6" height="10" fill="#da664d"/>
<rect x="638" y="279.15" width="6" height="2.8" fill="#541816"/>
<rect x="644" y="280.65" width="6" height="4" fill="#541816"/>
<rect x="650" y="283.85" width="5" height="5" fill="#541816"/>
<rect x="651.7" y="285.55" width="1.6" height="1.6" fill="#da664d"/>
<rect x="655" y="288.05" width="6" height="6" fill="#541816"/>
<rect x="656.7" y="289.75" width="2.6" height="2.6" fill="#da664d"/>
<rect x="661" y="292.85" width="5" height="23.2" fill="#541816"/>
<rect x="662.7" y="294.55" width="1.6" height="19.8" fill="#da664d"/>
<rect x="666" y="314.05" width="6" height="2.8" fill="#27533a"/>
<rect x="672" y="315.05" width="6" height="11" fill="#541816"/>
<rect x="673.7" y="316.75" width="2.6" height="7.6" fill="#da664d"/>
<rect x="678" y="324.2" width="5" height="2.6" fill="#541816"/>
<rect x="683" y="325.25" width="6" height="23.2" fill="#541816"/>
<rect x="684.7" y="326.95" width="2.6" height="19.8" fill="#da664d"/>
<rect x="689" y="338.15" width="6" height="10.3" fill="#27533a"/>
<rect x="690.7" y="339.85" width="2.6" height="6.9" fill="#74aa88"/>
<rect x="695" y="334.05" width="5" height="4.9" fill="#27533a"/>
<rect x="696.7" y="335.75" width="1.6" height="1.5" fill="#74aa88"/>
<rect x="700" y="334.05" width="6" height="9.7" fill="#541816"/>
<rect x="701.7" y="335.75" width="2.6" height="6.3" fill="#da664d"/>
<rect x="706" y="341.15" width="6" height="2.8" fill="#27533a"/>
<rect x="712" y="336.15" width="5" height="5.8" fill="#27533a"/>
<rect x="713.7" y="337.85" width="1.6" height="2.4" fill="#74aa88"/>
<rect x="717" y="332.05" width="6" height="4.5" fill="#27533a"/>
<rect x="718.7" y="333.75" width="2.6" height="1.1" fill="#74aa88"/>
<rect x="723" y="329.75" width="5" height="3.5" fill="#27533a"/>
<rect x="728" y="327.55" width="6" height="3.5" fill="#27533a"/>
<rect x="734" y="324.95" width="6" height="3.8" fill="#27533a"/>
<rect x="740" y="325.25" width="5" height="11.7" fill="#541816"/>
<rect x="741.7" y="326.95" width="1.6" height="8.3" fill="#da664d"/>
<rect x="745" y="336.15" width="6" height="3.9" fill="#541816"/>
<rect x="751" y="327.95" width="6" height="12.4" fill="#27533a"/>
<rect x="752.7" y="329.65" width="2.6" height="9" fill="#74aa88"/>
<rect x="757" y="326.55" width="5" height="2.6" fill="#27533a"/>
<rect x="762" y="326.95" width="6" height="13.8" fill="#541816"/>
<rect x="763.7" y="328.65" width="2.6" height="10.4" fill="#da664d"/>
<rect x="768" y="339.05" width="5" height="2.6" fill="#541816"/>
<rect x="773" y="339.85" width="6" height="2.6" fill="#541816"/>
<rect x="779" y="338.45" width="6" height="3.5" fill="#27533a"/>
<rect x="785" y="338.15" width="5" height="4.6" fill="#541816"/>
<rect x="786.7" y="339.85" width="1.6" height="1.2" fill="#da664d"/>
<rect x="790" y="338.15" width="6" height="4.6" fill="#27533a"/>
<rect x="791.7" y="339.85" width="2.6" height="1.2" fill="#74aa88"/>
<rect x="796" y="335.75" width="6" height="3.5" fill="#27533a"/>
<rect x="802" y="326.55" width="5" height="10" fill="#27533a"/>
<rect x="803.7" y="328.25" width="1.6" height="6.6" fill="#74aa88"/>
</g>
<line x1="0" y1="326.9" x2="1176" y2="326.9" stroke="#62a07e" stroke-width="2" stroke-dasharray="2 4"/>
<path d="M811.5 340.5 L906 255.5 L898.5 249 L940.5 245 L925 284 L920 275.5 Z" fill="#2f5c27" stroke="#2f5c27" stroke-width="4" stroke-linejoin="round"/>
<defs><clipPath id="cp"><path d="M690.3 554.2 L885.1 554.2 L1007.2 526.4 L1007.6 528.2 L901.2 570.7 L901.2 609.2 A14.5 14.5 0 0 1 886.7 623.7 L690.3 623.7 A14.5 14.5 0 0 1 675.8 609.2 L675.8 568.7 A14.5 14.5 0 0 1 690.3 554.2 Z"/></clipPath></defs>
<path d="M690.3 554.2 L885.1 554.2 L1007.2 526.4 L1007.6 528.2 L901.2 570.7 L901.2 609.2 A14.5 14.5 0 0 1 886.7 623.7 L690.3 623.7 A14.5 14.5 0 0 1 675.8 609.2 L675.8 568.7 A14.5 14.5 0 0 1 690.3 554.2 Z" fill="#e58c8a" fill-opacity="0.93"/>
<path d="M690.3 554.2 L885.1 554.2 L1007.2 526.4 L1007.6 528.2 L901.2 570.7 L901.2 609.2 A14.5 14.5 0 0 1 886.7 623.7 L690.3 623.7 A14.5 14.5 0 0 1 675.8 609.2 L675.8 568.7 A14.5 14.5 0 0 1 690.3 554.2 Z" fill="none" stroke="#7e3242" stroke-width="5.6" stroke-linejoin="miter" clip-path="url(#cp)"/>
<path d="M690.3 554.2 L885.1 554.2 L1007.2 526.4 L1007.6 528.2 L901.2 570.7 L901.2 609.2 A14.5 14.5 0 0 1 886.7 623.7 L690.3 623.7 A14.5 14.5 0 0 1 675.8 609.2 L675.8 568.7 A14.5 14.5 0 0 1 690.3 554.2 Z" fill="none" stroke="#17141f" stroke-width="2.2" stroke-linejoin="miter"/>
<text x="697" y="597.5" font-size="28" font-weight="bold" fill="#000" textLength="184.5" lengthAdjust="spacingAndGlyphs">Third Halving</text>
<rect x="0" y="760" width="999" height="2" fill="#4d4d4d"/>
<rect x="999" y="760" width="177" height="4" fill="#131722"/>
</svg></body></html>
